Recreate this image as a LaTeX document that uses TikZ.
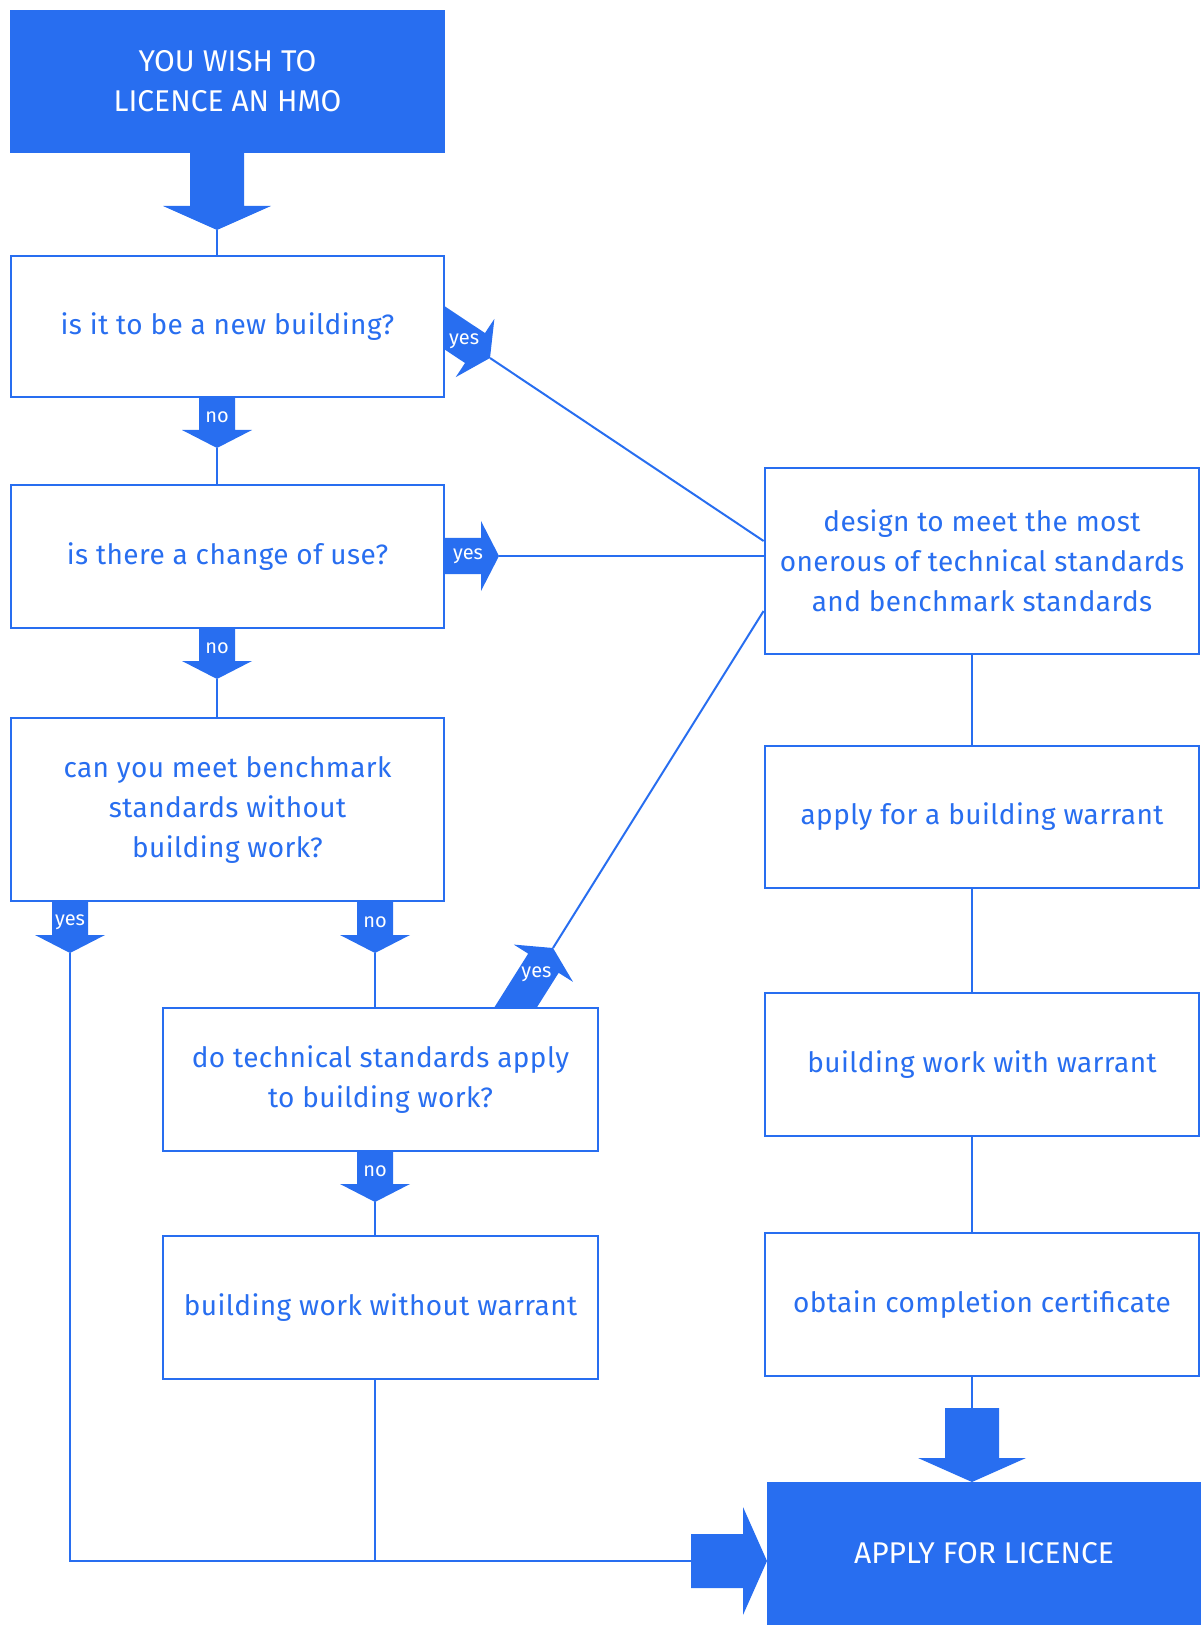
\documentclass[tikz,border=0pt]{standalone}
\usepackage{fontspec}
\setmainfont{Fira Sans}
\usetikzlibrary{calc,backgrounds}
\definecolor{hmoblue}{RGB}{40,110,240}

% small labelled arrow, tip at #1, pointing at angle #2
\newcommand{\tagarrow}[3]{%
  \begin{scope}[shift={(#1)},rotate=#2]
    \fill[hmoblue] (0,0) -- (-18,35) -- (-18,18) -- (-90,18) -- (-90,-18)
      -- (-18,-18) -- (-18,-35) -- cycle;
    \node[tagtext] at (-31,0) {#3};
  \end{scope}}
% big arrow, tip at #1, pointing at angle #2, length #3
\newcommand{\bigarrow}[3]{%
  \begin{scope}[shift={(#1)},rotate=#2]
    \fill[hmoblue] (0,0) -- (-24,54) -- (-24,27) -- (-#3,27) -- (-#3,-27)
      -- (-24,-27) -- (-24,-54) -- cycle;
  \end{scope}}

\begin{document}
\begin{tikzpicture}
[x=0.5pt,y=-0.5pt,
  qbox/.style={draw=hmoblue,line width=1.4pt,fill=white,text=hmoblue,
    align=center,inner sep=0pt,
    font=\fontsize{14}{20}\selectfont\addfontfeatures{LetterSpace=1.5}},
  solidbox/.style={fill=hmoblue,text=white,align=center,inner sep=0pt,
    font=\fontsize{15}{20}\selectfont},
  link/.style={draw=hmoblue,line width=1pt},
  tagtext/.style={text=white,inner sep=0pt,font=\fontsize{10}{10}\selectfont}]
\useasboundingbox (0,0) rectangle (1201,1625);
%% boxes
\foreach \nodename/\x/\y/\w/\h/\kind/\txt in {
  start/227.5/81.5/435/143/solidbox/{YOU WISH TO\\LICENCE AN HMO},
  newbuild/227.5/326.5/433/141/qbox/{is it to be a new building?},
  change/227.5/556.5/433/143/qbox/{is there a change of use?},
  bench/227.5/809.5/433/183/qbox/{can you meet benchmark\\standards without\\building work?},
  techstd/380.5/1079.5/435/143/qbox/{do technical standards apply\\to building work?},
  nowarrant/380.5/1307.5/435/143/qbox/{building work without warrant},
  design/982/561/434/186/qbox/{design to meet the most\\onerous of technical standards\\and benchmark standards},
  warrant/982/817/434/142/qbox/{apply for a building warrant},
  withwarrant/982/1064.5/434/143/qbox/{building work with warrant},
  certificate/982/1304.5/434/143/qbox/{obtain completion certificate},
  licence/984/1553.5/434/143/solidbox/{APPLY FOR LICENCE}} {
  \node (\nodename) at (\x,\y) [\kind,minimum width=\w*0.5pt,minimum height=\h*0.5pt] {\txt};
}
%% arrow tips and line ends
\coordinate (tipstart) at (217,230);
\coordinate (tipnewno) at (217,448);
\coordinate (tipnewyes) at (490,358);
\coordinate (tipchangeyes) at (499,556);
\coordinate (tipchangeno) at (217,679);
\coordinate (tipbenchyes) at (70,953);
\coordinate (tipbenchno) at (375,953);
\coordinate (tiptechyes) at (553,948);
\coordinate (tiptechno) at (375,1202);
\coordinate (tiplicdown) at (972,1482);
\coordinate (tipliceast) at (767,1561);
\coordinate (taildown) at (972,1408);
\coordinate (taileast) at (691,1561);
\coordinate (rcol) at (972,0);
%% arrows and lines
\begin{scope}[on background layer]
  \bigarrow{tipstart}{-90}{78}
  \bigarrow{tiplicdown}{-90}{74}
  \bigarrow{tipliceast}{0}{76}
  \tagarrow{tipnewno}{-90}{no}
  \tagarrow{tipnewyes}{-33.6}{yes}
  \tagarrow{tipchangeyes}{0}{yes}
  \tagarrow{tipchangeno}{-90}{no}
  \tagarrow{tipbenchyes}{-90}{yes}
  \tagarrow{tipbenchno}{-90}{no}
  \tagarrow{tiptechyes}{57.8}{yes}
  \tagarrow{tiptechno}{-90}{no}
  \draw[link] (tipstart) -- (newbuild.north -| tipstart);
  \draw[link] (tipnewno) -- (change.north -| tipnewno);
  \draw[link] (tipnewyes) -- ($(design.west)+(0,-20)$);
  \draw[link] (tipchangeyes) -- (design.west |- tipchangeyes);
  \draw[link] (tipchangeno) -- (bench.north -| tipchangeno);
  \draw[link] (tipbenchyes) -- (tipbenchyes |- taileast) -- (taileast);
  \draw[link] (tipbenchno) -- (techstd.north -| tipbenchno);
  \draw[link] (tiptechyes) -- ($(design.west)+(0,50)$);
  \draw[link] (tiptechno) -- (nowarrant.north -| tiptechno);
  \draw[link] (nowarrant.south -| tiptechno) -- (tiptechno |- taileast);
  \draw[link] (design.south -| rcol) -- (warrant.north -| rcol);
  \draw[link] (warrant.south -| rcol) -- (withwarrant.north -| rcol);
  \draw[link] (withwarrant.south -| rcol) -- (certificate.north -| rcol);
  \draw[link] (certificate.south -| rcol) -- (taildown);
\end{scope}
\end{tikzpicture}
\end{document}
